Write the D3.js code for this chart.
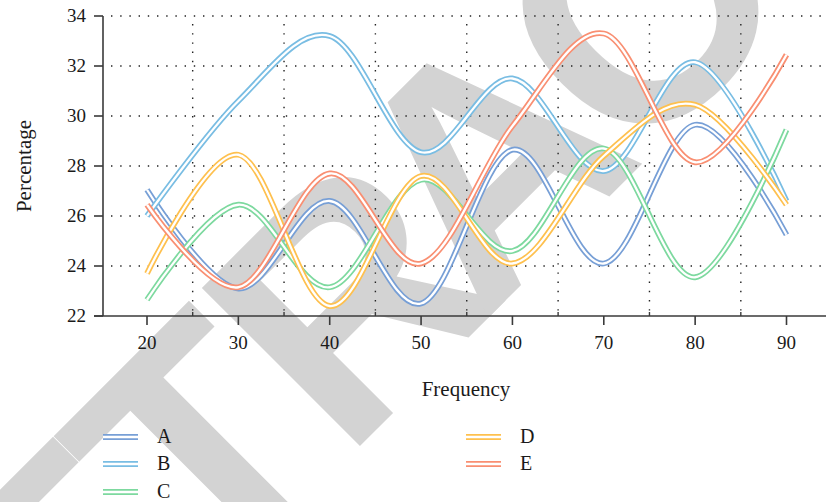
<!DOCTYPE html>
<html>
<head>
<meta charset="utf-8">
<script src="https://cdn.jsdelivr.net/npm/d3@7"></script>
<style>
  body { margin: 0; background: #fff; }
  svg { display: block; }
  text { font-family: "Liberation Serif", "DejaVu Serif", serif; fill: #1a1a1a; }
</style>
</head>
<body>
<svg id="chart"></svg>
<script>
var width = 826,
    height = 502;

var freq = [20, 30, 40, 50, 60, 70, 80, 90];
var seriesNames = ["A", "B", "C", "D", "E"];
var seriesColors = ["#779fd6", "#79bde3", "#7dd99f", "#fec04e", "#f98f72"];
var valuesA = [27.05, 23.1, 26.6, 22.5, 28.65, 24.1, 29.65, 25.25];
var valuesB = [26.0, 30.6, 33.2, 28.55, 31.5, 27.8, 32.15, 26.6];
var valuesC = [22.65, 26.45, 23.15, 27.45, 24.6, 28.7, 23.55, 29.45];
var valuesD = [23.7, 28.45, 22.4, 27.6, 24.1, 28.4, 30.45, 26.45];
var valuesE = [26.45, 23.15, 27.7, 24.1, 29.6, 33.3, 28.15, 32.45];
var yTicks = [22, 24, 26, 28, 30, 32, 34];
var xTicks = [20, 30, 40, 50, 60, 70, 80, 90];
var xMinor = [25, 35, 45, 55, 65, 75, 85];

var allSeries = [valuesA, valuesB, valuesC, valuesD, valuesE];

var svg = d3.select("#chart").attr("width", width).attr("height", height);

// watermark behind everything
svg.append("text")
  .attr("transform", "translate(-79,885) rotate(-45)")
  .attr("text-anchor", "start")
  .attr("dx", "0 0 0 15 -18 0 0 0 0")
  .style("font-family", "'Liberation Sans', Arial, sans-serif")
  .style("font-weight", "bold")
  .style("font-size", "325px")
  .style("letter-spacing", "-22px")
  .style("fill", "#d3d3d3")
  .text("RETRACTED");

var x = d3.scaleLinear().domain([20, 90]).range([147, 786.5]);
var y = d3.scaleLinear().domain([22, 34]).range([316, 16]);

var left = 103, right = width;

// dotted grid
var grid = svg.append("g");
grid.selectAll("line.h")
  .data(yTicks.filter(function(d) { return d > 22; }))
  .enter().append("line")
  .attr("x1", left + 8).attr("x2", right)
  .attr("y1", function(d) { return y(d); })
  .attr("y2", function(d) { return y(d); })
  .attr("stroke", "#222")
  .attr("stroke-width", 1.4)
  .attr("stroke-dasharray", "1.4,7.8");
grid.selectAll("line.v")
  .data(xMinor)
  .enter().append("line")
  .attr("x1", function(d) { return x(d); })
  .attr("x2", function(d) { return x(d); })
  .attr("y1", y(34) + 8).attr("y2", y(22))
  .attr("stroke", "#222")
  .attr("stroke-width", 1.4)
  .attr("stroke-dasharray", "1.4,7.8");

// lines: thick coloured stroke with a white core
var line = d3.line()
  .x(function(d, i) { return x(freq[i]); })
  .y(function(d) { return y(d); })
  .curve(d3.curveCardinal.tension(0));

var lines = svg.append("g");
allSeries.forEach(function(vals, i) {
  lines.append("path")
    .attr("d", line(vals))
    .attr("fill", "none")
    .attr("stroke", seriesColors[i])
    .attr("stroke-width", 5.8);
  lines.append("path")
    .attr("d", line(vals))
    .attr("fill", "none")
    .attr("stroke", "#fff")
    .attr("stroke-width", 2.3);
});

// axes
var axisColor = "#3a3a3a";
var xAxis = svg.append("g").attr("transform", "translate(0," + y(22) + ")");
xAxis.append("line")
  .attr("x1", 94).attr("x2", right)
  .attr("stroke", axisColor).attr("stroke-width", 1.6);
xAxis.selectAll("line.tick")
  .data(xTicks).enter().append("line")
  .attr("x1", function(d) { return x(d); })
  .attr("x2", function(d) { return x(d); })
  .attr("y1", 0).attr("y2", 9)
  .attr("stroke", axisColor).attr("stroke-width", 1.6);
xAxis.selectAll("line.minor")
  .data(xMinor).enter().append("line")
  .attr("x1", function(d) { return x(d); })
  .attr("x2", function(d) { return x(d); })
  .attr("y1", 0).attr("y2", -4)
  .attr("stroke", axisColor).attr("stroke-width", 1.4);
xAxis.selectAll("text")
  .data(xTicks).enter().append("text")
  .attr("x", function(d) { return x(d); })
  .attr("y", 27)
  .attr("dy", "0.32em")
  .attr("text-anchor", "middle")
  .style("font-size", "19px")
  .text(function(d) { return d; });

var yAxis = svg.append("g").attr("transform", "translate(" + left + ",0)");
yAxis.append("line")
  .attr("y1", y(34)).attr("y2", y(22))
  .attr("stroke", axisColor).attr("stroke-width", 1.6);
yAxis.selectAll("line.tick")
  .data(yTicks).enter().append("line")
  .attr("x1", -9).attr("x2", 0)
  .attr("y1", function(d) { return y(d); })
  .attr("y2", function(d) { return y(d); })
  .attr("stroke", axisColor).attr("stroke-width", 1.6);
yAxis.selectAll("text")
  .data(yTicks).enter().append("text")
  .attr("x", -17)
  .attr("y", function(d) { return y(d); })
  .attr("dy", "0.32em")
  .attr("text-anchor", "end")
  .style("font-size", "19px")
  .text(function(d) { return d; });

// axis titles
svg.append("text")
  .attr("x", 466).attr("y", 389)
  .attr("dy", "0.32em")
  .attr("text-anchor", "middle")
  .style("font-size", "21px")
  .text("Frequency");
svg.append("text")
  .attr("transform", "translate(24,166) rotate(-90)")
  .attr("dy", "0.32em")
  .attr("text-anchor", "middle")
  .style("font-size", "21px")
  .text("Percentage");

// legend
var legendPos = [[103, 437], [103, 464], [103, 492], [466, 437], [466, 464]];
var legend = svg.append("g");
seriesNames.forEach(function(name, i) {
  var p = legendPos[i];
  legend.append("line")
    .attr("x1", p[0]).attr("x2", p[0] + 35)
    .attr("y1", p[1]).attr("y2", p[1])
    .attr("stroke", seriesColors[i]).attr("stroke-width", 5.8);
  legend.append("line")
    .attr("x1", p[0]).attr("x2", p[0] + 35)
    .attr("y1", p[1]).attr("y2", p[1])
    .attr("stroke", "#fff").attr("stroke-width", 2.3);
  legend.append("text")
    .attr("x", p[0] + 54).attr("y", p[1])
    .attr("dy", "0.32em")
    .style("font-size", "20px")
    .text(name);
});
</script>
</body>
</html>
